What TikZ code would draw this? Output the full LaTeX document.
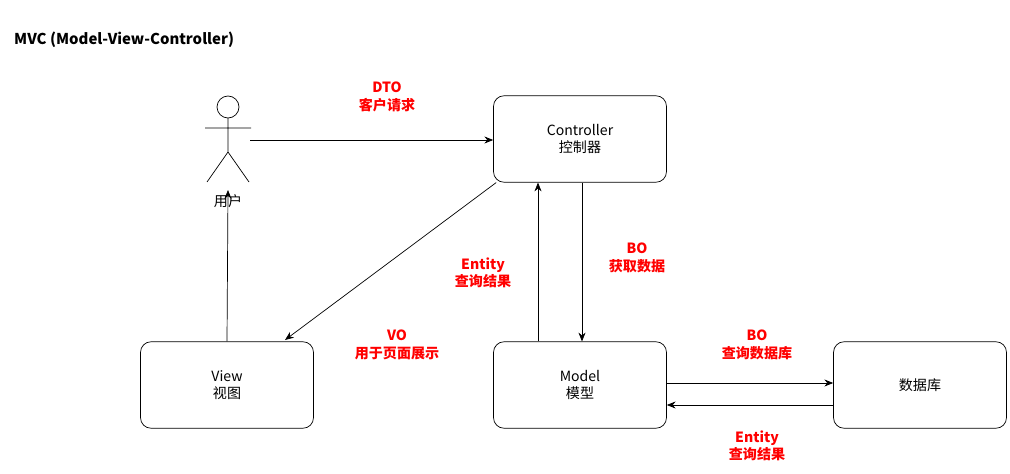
\documentclass[tikz,border=0pt]{standalone}
\usepackage{fontspec}
\setmainfont{Noto Sans CJK SC}
\usetikzlibrary{arrows.meta,positioning}
\begin{document}
\begin{tikzpicture}[x=0.02cm,y=-0.02cm]
    \tikzset{
        box/.style      =   { rectangle
                            , rounded corners=6pt
                            , draw=black
                            , align=center
                            , minimum width=3.46cm
                            , minimum height=1.73cm
                            , font=\fontsize{8}{10}\selectfont
                            }
        , arrow/.style  =   { -{Stealth[length=5pt,width=4pt]}
                            }
        , lbl/.style    =   { text=red
                            , align=center
                            , font=\fontsize{8}{10}\selectfont\bfseries
                            }
    }
    \useasboundingbox (0,0) rectangle (1010,473);
    \node[anchor=west,font=\fontsize{8.5}{10}\selectfont\bfseries] (title) at (8,40) {MVC (Model-View-Controller)};
    % user figure
    \draw (228,107) circle (11);
    \draw (228,118) -- (228,152) (205,128) -- (251,128) (207,182) -- (228,152) -- (249,182);
    \node[font=\fontsize{8}{10}\selectfont] (userlbl) at (228,201) {用户};
    \coordinate (user) at (250,140);
    \coordinate (userb) at (228,190);
    % boxes
    \node(ctrl)[box] at (580,139) {Controller\\控制器};
    \node(view)[box] at (227,385) {View\\视图};
    \node(model)[box] at (580,385) {Model\\模型};
    \node(db)[box] at (920,385) {数据库};
    % anchor helpers
    \coordinate (up) at (538,0);
    \coordinate (down) at (582,0);
    \coordinate (fwd) at (0,383);
    \coordinate (back) at (0,405);

    \draw[arrow] (user) -- (ctrl.west |- user);
    \draw[arrow] (ctrl.south west) ++(3,0) coordinate (c1) -- (285,340);
    \draw[arrow] (view.north) -- (userb);
    \draw[arrow] (up |- model.north) -- (up |- ctrl.south);
    \draw[arrow] (down |- ctrl.south) -- (down |- model.north);
    \draw[arrow] (model.east |- fwd) -- (db.west |- fwd);
    \draw[arrow] (db.west |- back) -- (model.east |- back);

    \node[lbl] (dto) at (387,97) {DTO\\客户请求};
    \node[lbl] (vo) at (397,345) {VO\\用于页面展示};
    \node[lbl] (ent1) at (483,273) {Entity\\查询结果};
    \node[lbl] (bo1) at (637,258) {BO\\获取数据};
    \node[lbl] (bo2) at (757,345) {BO\\查询数据库};
    \node[lbl] (ent2) at (757,446) {Entity\\查询结果};
\end{tikzpicture}
\end{document}
